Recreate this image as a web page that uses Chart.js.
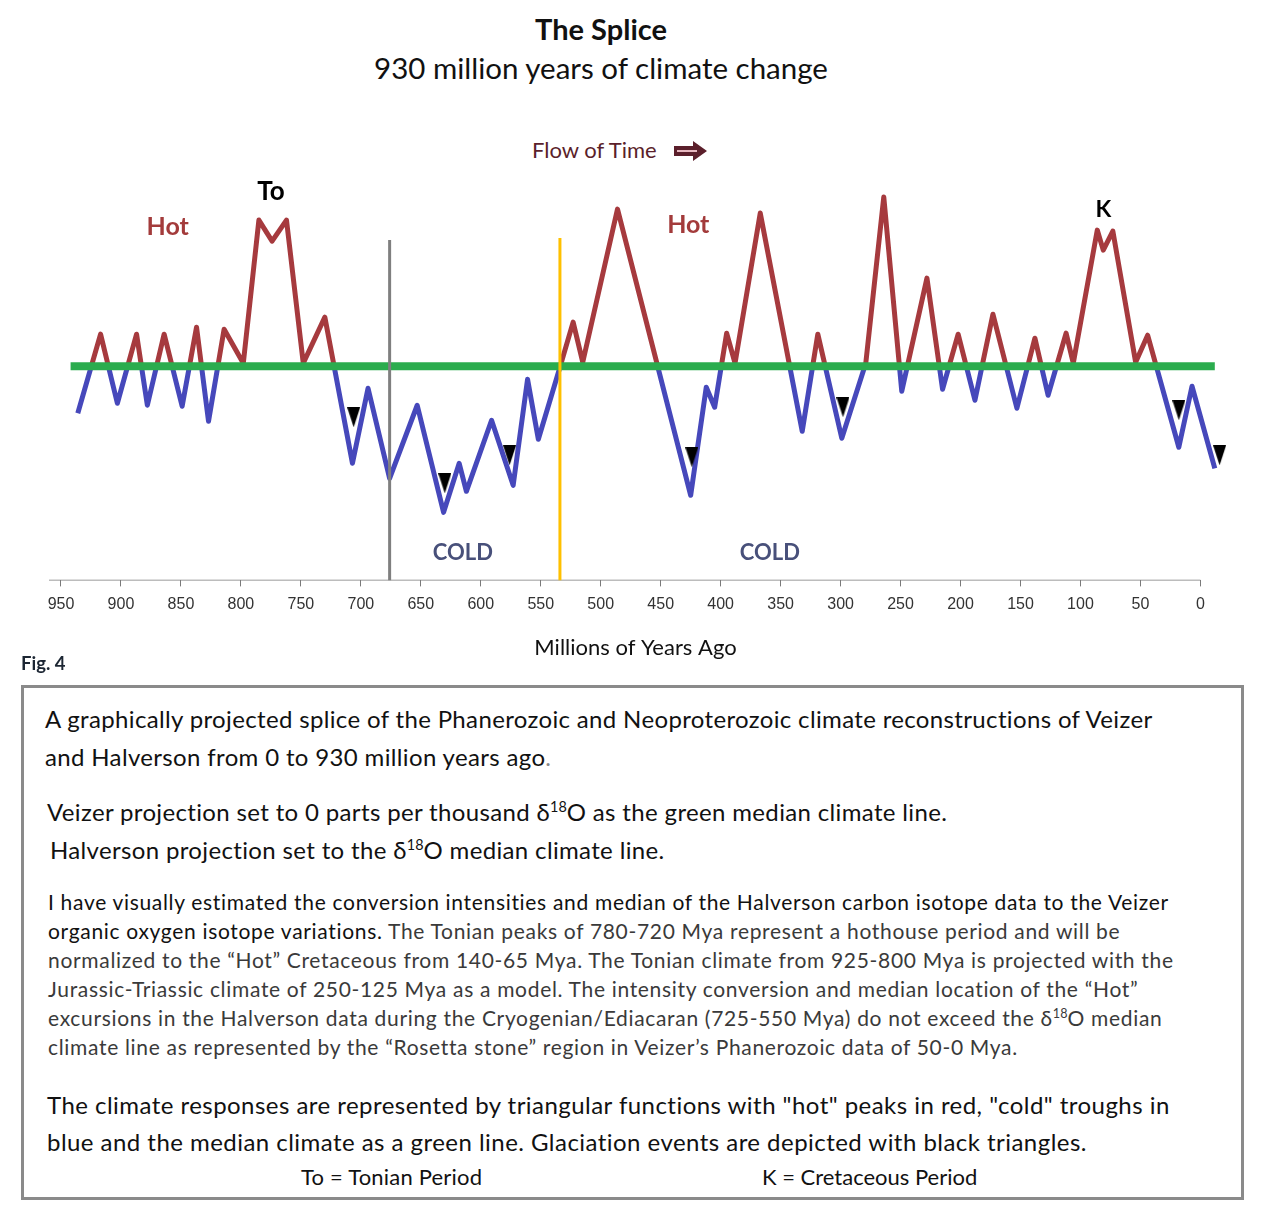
<!DOCTYPE html>
<html>
<head>
<meta charset="utf-8">
<title>The Splice</title>
<script src="https://cdn.jsdelivr.net/npm/chart.js@4.4.1/dist/chart.umd.min.js"></script>
<style>
    body { margin: 0; background: #fff; font-family: Lato, 'Noto Sans', sans-serif; color: #111; }
    #page { position: relative; width: 1262px; height: 1218px; overflow: hidden; }
    #chartBox { position: absolute; left: 0; top: 0; width: 1262px; height: 680px; }
    .t { position: absolute; white-space: nowrap; }
    .title { left: 0; width: 1202px; text-align: center; }
    #noteBox { position: absolute; left: 21px; top: 685px; width: 1223px; height: 515px;
               border: 3px solid #8a8a8a; box-sizing: border-box; }
    .big { font-size: 24px; line-height: 38px; letter-spacing: 0.35px; }
    .small { font-size: 21px; line-height: 29px; letter-spacing: 0.68px; }
    .grey { color: #3a3a3a; }
    sup { font-size: 0.6em; line-height: 0; vertical-align: 0.6em; letter-spacing: 0; }
</style>
</head>
<body>
<div id="page">
    <div class="t title" style="top:11px; font-size:29px; font-weight:700;">The Splice</div>
    <div class="t title" style="top:50px; font-size:29.5px;">930 million years of climate change</div>
    <div class="t" style="left:532px; top:136px; font-size:22px; color:#5b1f2b;">
        Flow of Time
        <svg width="33" height="20" viewBox="0 0 33 20" style="margin-left:12px; vertical-align:-3px;">
            <path d="M0 5 H19 V0 L33 10 L19 20 V15 H0 Z" fill="#5b1f2b"/>
            <line x1="3" y1="10" x2="23" y2="10" stroke="#e7b7bf" stroke-width="2"/>
        </svg>
    </div>

    <div id="chartBox"><canvas id="spliceChart" width="1262" height="680"></canvas></div>

    <div class="t" style="left:21px; top:652px; font-size:18.5px; font-weight:700; color:#1c2633;">Fig. 4</div>

    <div id="noteBox"></div>
    <div class="t big" style="left:45px; top:700px;">
        A graphically projected splice of the Phanerozoic and Neoproterozoic climate reconstructions of Veizer<br>
        and Halverson from 0 to 930 million years ago<span style="color:#888;">.</span>
    </div>
    <div class="t big" style="left:47px; top:793px;">
        Veizer projection set to 0 parts per thousand δ<sup>18</sup>O as the green median climate line.<br>
        <span style="margin-left:3px;">Halverson projection set to the δ<sup>18</sup>O median climate line.</span>
    </div>
    <div class="t small" style="left:48px; top:887px;">
        I have visually estimated the conversion intensities and median of the Halverson carbon isotope data to the Veizer<br>
        organic oxygen isotope variations. <span class="grey">The Tonian peaks of 780-720 Mya represent a hothouse period and will be<br>
        normalized to the “Hot” Cretaceous from 140-65 Mya. The Tonian climate from 925-800 Mya is projected with the<br>
        Jurassic-Triassic climate of 250-125 Mya as a model. The intensity conversion and median location of the “Hot”<br>
        excursions in the Halverson data during the Cryogenian/Ediacaran (725-550 Mya) do not exceed the δ<sup>18</sup>O median<br>
        climate line as represented by the “Rosetta stone” region in Veizer’s Phanerozoic data of 50-0 Mya.</span>
    </div>
    <div class="t big" style="left:47px; top:1086px; line-height:37px; letter-spacing:0.46px;">
        The climate responses are represented by triangular functions with "hot" peaks in red, "cold" troughs in<br>
        blue and the median climate as a green line. Glaciation events are depicted with black triangles.
    </div>
    <div class="t" style="left:301px; top:1163px; font-size:22px; letter-spacing:0.2px;">To = Tonian Period</div>
    <div class="t" style="left:762px; top:1163px; font-size:22px; letter-spacing:0px;">K = Cretaceous Period</div>
</div>

<script>
// climate curve vertices (Mya, relative to the median line)
const climateMya = [936, 917, 903, 887, 878, 864, 849, 837, 827, 814,
                    798, 785, 774, 762, 748, 730, 707, 694, 676, 653,
                    631, 618, 612, 591, 573, 561, 552, 534, 523, 515,
                    486, 425, 412, 405, 395, 388, 367, 332, 319, 299,
                    279, 264, 249, 228, 215, 202, 188, 173, 153, 138,
                    127, 112, 106, 86, 81, 73, 54, 44, 18, 7, -12];
const climateValue = [-4.7, 3.2, -3.7, 3.2, -3.9, 3.2, -4.0, 3.9, -5.5, 3.7,
                      0.3, 14.6, 12.5, 14.6, 0.3, 4.9, -9.7, -2.2, -11.2, -3.9,
                      -14.6, -9.7, -12.5, -5.4, -11.9, -1.3, -7.3, -0.1, 4.4, 0.4,
                      15.7, -12.9, -2.1, -4.1, 3.3, 0.3, 15.3, -6.5, 3.2, -7.2,
                      0.3, 16.9, -2.5, 8.8, -2.3, 3.2, -3.4, 5.2, -4.2, 2.8,
                      -2.9, 3.3, 0.3, 13.6, 11.6, 13.5, 0.4, 3.1, -8.1, -2.0, -10.2];

// glaciation events (black triangles)
const glacialMya = [706, 630, 576, 424, 298, 18, -16];
const glacialValue = [-5.1, -11.7, -8.9, -9.1, -4.1, -4.4, -8.9];

// green median climate line
const medianMya = [942, -12];
const medianValue = [0, 0];

// splice boundaries: grey and yellow verticals
const boundaryMya = [676, 534];
const boundaryTop = [12.6, 12.8];

const tickValues = [950, 900, 850, 800, 750, 700, 650, 600, 550, 500,
                    450, 400, 350, 300, 250, 200, 150, 100, 50, 0];

const xOld = 960;     // left end of the time axis
const xNew = -18;     // the plot runs a little past today
const yMin = -21.4;
const yMax = 23.6;

const RED = '#a63a3e';
const BLUE = '#4648bb';

// text inside the plot, placed in data coordinates
const plotLabels = [
    { text: 'Hot',  x: 861, y: 13.9,  color: '#a33b3b', font: 'bold 25px Lato' },
    { text: 'To',   x: 775, y: 17.4,  color: '#000',    font: 'bold 26px Lato' },
    { text: 'Hot',  x: 427, y: 14.1,  color: '#a33b3b', font: 'bold 25px Lato' },
    { text: 'K',    x: 81,  y: 15.6,  color: '#000',    font: 'bold 23px Lato' },
    { text: 'COLD', x: 615, y: -18.7, color: '#48507a', font: 'bold 22px Lato' },
    { text: 'COLD', x: 359, y: -18.7, color: '#48507a', font: 'bold 22px Lato' }
];

const labelPlugin = {
    id: 'plotLabels',
    afterDatasetsDraw(chart) {
        const { ctx, scales } = chart;
        ctx.save();
        ctx.textAlign = 'center';
        ctx.textBaseline = 'middle';
        plotLabels.forEach(function(l) {
            ctx.font = l.font;
            ctx.fillStyle = l.color;
            ctx.fillText(l.text, scales.x.getPixelForValue(l.x), scales.y.getPixelForValue(l.y));
        });
        ctx.restore();
    }
};

// narrow downward triangle used as point style
const tri = document.createElement('canvas');
tri.width = 13;
tri.height = 20;
const tctx = tri.getContext('2d');
tctx.fillStyle = '#000';
tctx.beginPath();
tctx.moveTo(0, 0);
tctx.lineTo(13, 0);
tctx.lineTo(6.5, 20);
tctx.closePath();
tctx.fill();

function hotColdGradient(context) {
    const chart = context.chart;
    const area = chart.chartArea;
    if (!area) return RED;
    const zero = chart.scales.y.getPixelForValue(0);
    const f = Math.min(Math.max((zero - area.top) / (area.bottom - area.top), 0.02), 0.98);
    const g = chart.ctx.createLinearGradient(0, area.top, 0, area.bottom);
    g.addColorStop(0, RED);
    g.addColorStop(f - 0.005, RED);
    g.addColorStop(f + 0.005, BLUE);
    g.addColorStop(1, BLUE);
    return g;
}

const toPoints = (xs, ys) => xs.map((x, i) => ({ x: x, y: ys[i] }));

const datasets = [
    {
        label: 'Glaciation events',
        data: toPoints(glacialMya, glacialValue),
        showLine: false,
        pointStyle: tri,
        pointRadius: 10,
        clip: false
    }
];
boundaryMya.forEach(function(m, i) {
    datasets.push({
        label: i === 0 ? 'Halverson boundary' : 'Veizer boundary',
        data: [{ x: m, y: boundaryTop[i] }, { x: m, y: yMin }],
        borderColor: i === 0 ? '#7f7f7f' : '#ffc000',
        borderWidth: 3,
        pointRadius: 0
    });
});
datasets.push({
    label: 'Median climate',
    data: toPoints(medianMya, medianValue),
    borderColor: '#2bac4e',
    borderWidth: 8,
    pointRadius: 0
});
datasets.push({
    label: 'Climate',
    data: toPoints(climateMya, climateValue),
    borderColor: hotColdGradient,
    borderWidth: 5,
    borderJoinStyle: 'round',
    tension: 0,
    pointRadius: 0
});
// time axis line, only from the left end to 0
datasets.push({
    label: 'Axis',
    data: [{ x: xOld, y: yMin }, { x: 0, y: yMin }],
    borderColor: '#7a7a7a',
    borderWidth: 1.5,
    pointRadius: 0
});

new Chart(document.getElementById('spliceChart'), {
    type: 'line',
    data: { datasets: datasets },
    options: {
        responsive: false,
        animation: false,
        layout: { padding: { left: 49, right: 40, top: 130, bottom: 19 } },
        plugins: {
            legend: { display: false },
            tooltip: { enabled: false }
        },
        scales: {
            x: {
                type: 'linear',
                reverse: true,
                min: xNew,
                max: xOld,
                afterBuildTicks: function(axis) {
                    axis.ticks = tickValues.map(v => ({ value: v }));
                },
                border: { display: false },
                grid: { drawOnChartArea: false, drawTicks: true, tickLength: 6, color: '#7a7a7a' },
                ticks: {
                    maxRotation: 0,
                    autoSkip: false,
                    padding: 9,
                    color: '#333',
                    font: { family: 'Liberation Sans', size: 16 }
                },
                title: {
                    display: true,
                    text: 'Millions of Years Ago',
                    color: '#111',
                    font: { family: 'Lato', size: 22 },
                    padding: { top: 11, bottom: 0 }
                }
            },
            y: {
                display: false,
                min: yMin,
                max: yMax
            }
        }
    },
    plugins: [labelPlugin]
});
</script>
</body>
</html>
